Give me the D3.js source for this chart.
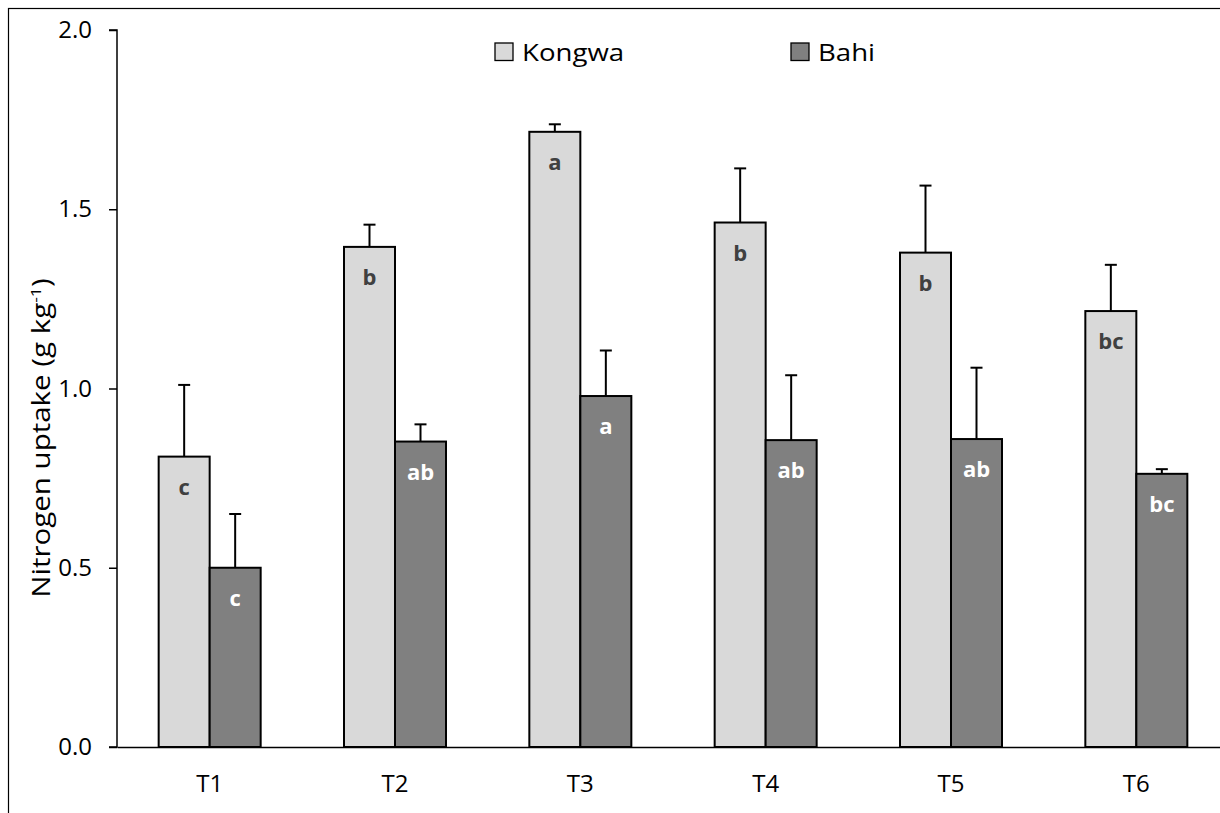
<!DOCTYPE html>
<html><head><meta charset="utf-8">
<script src="https://cdn.jsdelivr.net/npm/d3@7"></script>
<style>body{margin:0;background:#fff}svg{display:block}</style>
</head><body><svg id="c" width="1220" height="813"></svg>
<script>
const categories = ["T1","T2","T3","T4","T5","T6"];
const seriesNames = ["Kongwa","Bahi"];
const kongwa = [0.81,1.395,1.716,1.463,1.379,1.216];
const kongwaErr = [0.20,0.062,0.021,0.151,0.187,0.129];
const bahi = [0.50,0.852,0.979,0.856,0.859,0.762];
const bahiErr = [0.15,0.048,0.127,0.181,0.199,0.013];
const kongwaLetters = ["c","b","a","b","b","bc"];
const bahiLetters = ["c","ab","a","ab","ab","bc"];
const yTicks = [0,0.5,1.0,1.5,2.0];

const FONT = "'Open Sans', sans-serif";
const svg = d3.select("#c");
const L=117, R=1229, T=30, B=747;
const x = d3.scaleBand().domain(categories).range([L,R]);
const y = d3.scaleLinear().domain([0,2]).range([B,T]);
const barW = 51;
const colors = {Kongwa:"#d9d9d9", Bahi:"#808080"};
const labColors = {Kongwa:"#404040", Bahi:"#ffffff"};

// frame
svg.append("rect").attr("x",8.5).attr("y",8.5).attr("width",1300).attr("height",900)
  .attr("fill","none").attr("stroke","#000").attr("stroke-width",1.2);

const data = [];
categories.forEach((c,i)=>{
  data.push({c, s:"Kongwa", v:kongwa[i], e:kongwaErr[i], l:kongwaLetters[i], off:-barW});
  data.push({c, s:"Bahi", v:bahi[i], e:bahiErr[i], l:bahiLetters[i], off:0});
});
const cx = c => x(c)+x.bandwidth()/2;

// error bars
const eg = svg.append("g").attr("stroke","#000").attr("stroke-width",2);
data.forEach(d=>{
  const xm = cx(d.c)+d.off+barW/2;
  eg.append("line").attr("x1",xm).attr("x2",xm).attr("y1",y(d.v)).attr("y2",y(d.v+d.e));
  eg.append("line").attr("x1",xm-6).attr("x2",xm+6).attr("y1",y(d.v+d.e)).attr("y2",y(d.v+d.e));
});

svg.append("g").selectAll("rect").data(data).join("rect")
  .attr("x",d=>cx(d.c)+d.off).attr("width",barW)
  .attr("y",d=>y(d.v)).attr("height",d=>y(0)-y(d.v))
  .attr("fill",d=>colors[d.s]).attr("stroke","#000").attr("stroke-width",2);

svg.append("g").selectAll("text").data(data).join("text")
  .attr("x",d=>cx(d.c)+d.off+barW/2).attr("y",d=>y(d.v)+38)
  .attr("text-anchor","middle")
  .style("font-family",FONT).style("font-size","22px").style("font-weight","bold")
  .attr("fill",d=>labColors[d.s]).text(d=>d.l);

// axes
const yAxis = svg.append("g").attr("transform",`translate(${L},0)`)
  .call(d3.axisLeft(y).tickValues(yTicks).tickFormat(d3.format(".1f")).tickSize(8).tickPadding(17));
yAxis.select(".domain").attr("stroke","#000").attr("stroke-width",1.5).attr("d",`M-8,${T}H0V${B}H-8`);
yAxis.selectAll("text").style("font-family",FONT).style("font-size","24px").attr("fill","#000");
yAxis.selectAll("line").attr("stroke-width",1.5);

const xAxis = svg.append("g").attr("transform",`translate(0,${B})`)
  .call(d3.axisBottom(x).tickSize(0).tickPadding(28));
xAxis.select(".domain").attr("stroke","#000").attr("stroke-width",1.5);
xAxis.selectAll("text").style("font-family",FONT).style("font-size","24px").attr("fill","#000");

// y title
const yt = svg.append("text").attr("transform","translate(50,438) rotate(-90) scale(1.18,1)")
  .attr("text-anchor","middle").style("font-family",FONT).style("font-size","25px").attr("fill","#000");
yt.append("tspan").text("Nitrogen uptake (g kg");
yt.append("tspan").attr("dy",-9).style("font-size","15px").text("-1");
yt.append("tspan").attr("dy",9).text(")");

// legend
const lg = svg.append("g");
const legX = [495, 791];
seriesNames.forEach((s,i)=>{
  lg.append("rect").attr("x",legX[i]).attr("y",43).attr("width",18).attr("height",17.5)
    .attr("fill",colors[s]).attr("stroke","#000").attr("stroke-width",1.3);
  lg.append("text").attr("transform",`translate(${legX[i]+27},61) scale(1.15,1)`)
    .style("font-family",FONT).style("font-size","24px").attr("fill","#000").text(s);
});
</script></body></html>
